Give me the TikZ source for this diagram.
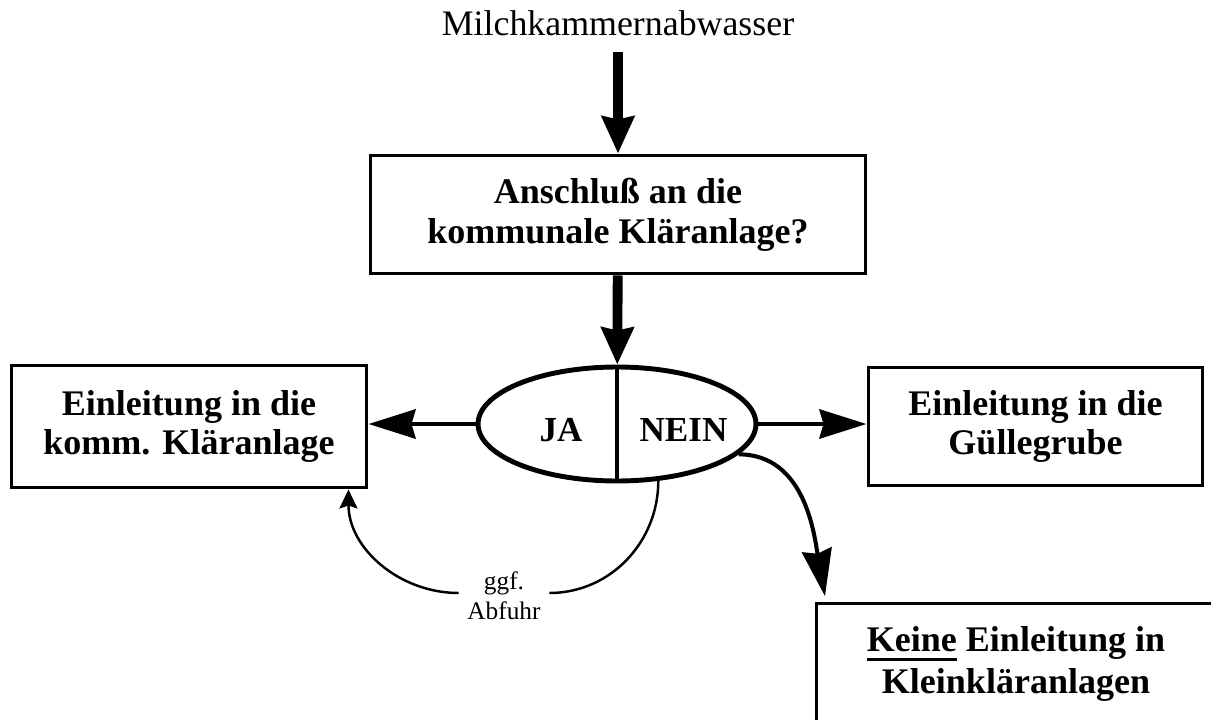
\documentclass[tikz,border=0pt]{standalone}
\usepackage{fontspec}
\setmainfont{Liberation Serif}
\newcommand{\unterstr}[1]{\setbox0\hbox{#1}\rlap{\rule[-5.6pt]{\wd0}{1.9pt}}#1}
\usetikzlibrary{arrows.meta}
\usetikzlibrary{shapes.geometric}
\tikzset{box/.style = {draw, line width=1.7pt, align=center, inner sep=0pt,
                       font=\fontsize{20.5}{22.7}\selectfont\bfseries},
         answer/.style = {inner sep=0pt, font=\fontsize{20}{24}\selectfont\bfseries},
         bigarrow/.style = {line width=5.6pt,
                            -{Stealth[length=0.74cm, width=0.64cm, inset=0.06cm]}},
         sidearrow/.style = {line width=2.8pt,
                             -{Stealth[length=0.94cm, width=0.58cm, inset=0.08cm]}},
         bentarrow/.style = {line width=2.3pt,
                             -{Stealth[length=0.94cm, width=0.6cm, inset=0.08cm]}},
         thinarrow/.style = {line width=1.4pt}}

\begin{document}
\begin{tikzpicture}[x=0.02cm, y=0.02cm]
    \path [use as bounding box, clip] (0, 0) rectangle (1211, -720);
    \node (src) at (618, -23) [font=\fontsize{20.4}{24}\selectfont] {Milchkammernabwasser};
    \node (frage) at (618, -214.5) [box, minimum width=9.92cm, minimum height=2.38cm]
          {Anschluß an die\\kommunale Kläranlage?};
    \node (wahl) at (617, -424) [ellipse, draw, line width=2.8pt, inner sep=0pt,
                                 minimum width=5.56cm, minimum height=2.28cm] {};
    \node (ja) at (561, -430) [answer] {JA};
    \node (nein) at (683.5, -430) [answer] {NEIN};
    \node (komm) at (189, -426.5) [box, minimum width=7.12cm, minimum height=2.46cm]
          {Einleitung in die\\komm. Kläranlage};
    \node (guelle) at (1035.5, -426.5) [box, minimum width=6.7cm, minimum height=2.38cm]
          {Einleitung in die\\Güllegrube};
    \node (klein) at (815, -602) [box, anchor=north west, minimum width=8.2cm,
                                  minimum height=2.76cm] {};
    \node (kleintext) at (1016, -664) [align=center, inner sep=0pt,
                                       font=\fontsize{20.5}{24.4}\selectfont\bfseries]
          {\unterstr{Keine} Einleitung in\\Kleinkläranlagen};
    \node (abfuhr) at (504, -596) [align=center, inner xsep=0.17cm,
                                   font=\fontsize{14.4}{17}\selectfont] {ggf.\\Abfuhr};
    \draw [bigarrow, shorten <=0.2cm] (src) -- (frage);
    \draw [bigarrow] (frage) -- (wahl);
    \draw [line width=2.8pt] (wahl.north) -- (wahl.south);
    \draw [sidearrow] (wahl.west) -- (wahl.west -| komm.east);
    \draw [sidearrow] (wahl.east) -- (wahl.east -| guelle.west);
    \draw [bentarrow, shorten >=0.12cm] (wahl.-14) to [out=0, in=100] ([xshift=0.22cm]klein.north west);
    \draw [thinarrow] (wahl.-54) to [out=-90, in=0] ([yshift=0.06cm]abfuhr.east);
    \draw [thinarrow, -{Stealth[length=0.38cm, width=0.36cm, inset=0.06cm]}] ([yshift=0.06cm]abfuhr.west)
          to [out=180, in=-90] ([xshift=-0.4cm]komm.south east);
\end{tikzpicture}
\end{document}
